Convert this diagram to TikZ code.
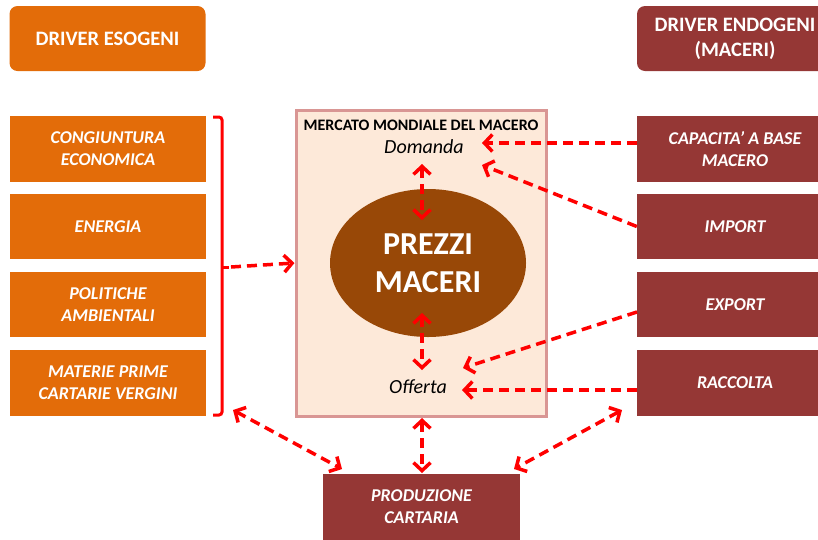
\documentclass[tikz,border=0pt]{standalone}
\usepackage{fontspec}
\setmainfont{Carlito}
\usetikzlibrary{arrows.meta,shapes.geometric}
\definecolor{orng}{HTML}{E36C09}
\definecolor{dred}{HTML}{953735}
\definecolor{brwn}{HTML}{984807}
\definecolor{mfill}{HTML}{FDE9D9}
\definecolor{mborder}{HTML}{D99694}
\definecolor{arr}{HTML}{FF0000}
\tikzset{
  lbox/.style={rectangle, fill=orng, text=white, font=\bfseries\itshape\fontsize{18}{22}\selectfont, align=center, minimum width=196pt, minimum height=65pt, inner sep=0pt},
  rbox/.style={lbox, fill=dred},
  hdr/.style={rectangle, rounded corners=8pt, text=white, font=\bfseries\fontsize{20.5}{25}\selectfont, align=center, minimum width=196pt, minimum height=65pt, inner sep=0pt},
  tipb/.tip={Straight Barb[length=8pt,width=17pt]},
  darr/.style={draw=arr, line width=3.5pt, dash pattern=on 10pt off 6pt, -tipb},
  bdarr/.style={darr, tipb-tipb},
}
\begin{document}
\begin{tikzpicture}[x=1pt,y=-1pt]
\useasboundingbox (0,0) rectangle (818,539);
% headers
\node[hdr, fill=orng] (esog) at (107.5,38.5) {DRIVER ESOGENI};
\node[hdr, fill=dred] (endog) at (735,38.5) {DRIVER ENDOGENI\\(MACERI)};
% left boxes
\node[lbox, minimum height=66pt] (cong) at (108,149) {CONGIUNTURA\\ECONOMICA};
\node[lbox] (ener) at (108,226.5) {ENERGIA};
\node[lbox] (poli) at (108,304.5) {POLITICHE\\AMBIENTALI};
\node[lbox, minimum height=66pt] (mate) at (108,383) {MATERIE PRIME\\CARTARIE VERGINI};
% right boxes
\node[rbox, minimum height=66pt] (capa) at (735,149) {CAPACITA’ A BASE\\MACERO};
\node[rbox] (impo) at (735,226.5) {IMPORT};
\node[rbox] (expo) at (735,304.5) {EXPORT};
\node[rbox, minimum height=66pt] (racc) at (735,383) {RACCOLTA};
% bottom
\node[rbox, minimum width=197pt, minimum height=66pt] (prod) at (421.5,507) {PRODUZIONE\\CARTARIA};
% market
\node[rectangle, fill=mfill, draw=mborder, line width=3pt, minimum width=250pt, minimum height=306pt, inner sep=0pt] (merc) at (421,263) {};
\node[font=\bfseries\fontsize{16}{19}\selectfont, inner sep=0pt] (tit) at (421,125) {MERCATO MONDIALE DEL MACERO};
\node[font=\itshape\fontsize{20}{24}\selectfont, inner sep=0pt] (dom) at (424,147) {Domanda};
\node[font=\itshape\fontsize{20}{24}\selectfont, inner sep=0pt] (off) at (418,387) {Offerta};
\node[ellipse, fill=brwn, minimum width=196pt, minimum height=148pt, inner sep=0pt, text=white, font=\bfseries\fontsize{32}{38}\selectfont, align=center] (prez) at (428,263) {PREZZI\\MACERI};
% bracket
\draw[arr, line width=3pt, rounded corners=3pt] (213,117) -- (222,117) -- (222,415) -- (213,415);
\draw[arr, line width=3pt] (222,267) -- (229,267);
\coordinate (br) at (231,267);
% arrows
\draw[darr] (br) -- (merc.west);
\coordinate (d1) at (482,143);
\coordinate (d2) at (482,165);
\coordinate (o1) at (463,368);
\coordinate (o2) at (462,390);
\draw[darr] (capa.west |- d1) -- (d1);
\draw[darr] (impo.west) -- (d2);
\draw[darr] (637,312) -- (o1);
\draw[darr] (racc.west |- o2) -- (o2);
\coordinate (a1) at (422,164);
\coordinate (a2) at (422,220);
\coordinate (a3) at (422,313);
\coordinate (a4) at (422,370);
\draw[bdarr] (a1) -- (a2);
\draw[bdarr] (a3) -- (a4);
\coordinate (b1) at (233,410);
\coordinate (b2) at (342,469);
\coordinate (b3) at (422,418);
\coordinate (b4) at (422,473);
\coordinate (b5) at (622,410);
\coordinate (b6) at (514,469);
\draw[bdarr] (b1) -- (b2);
\draw[bdarr] (b3) -- (b4);
\draw[bdarr] (b5) -- (b6);
\end{tikzpicture}
\end{document}
